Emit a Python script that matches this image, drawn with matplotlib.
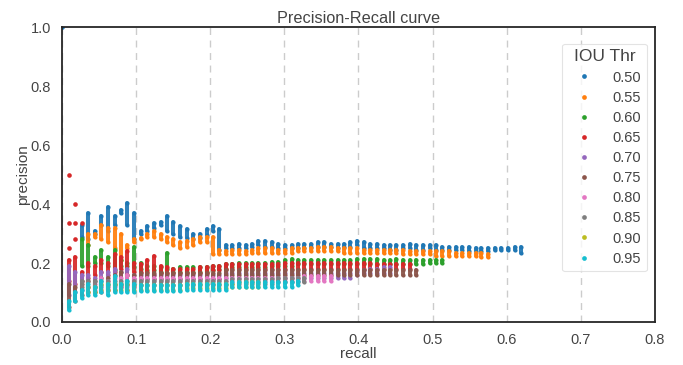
import matplotlib
matplotlib.use("Agg")
import matplotlib.pyplot as plt
from matplotlib.lines import Line2D

# recall positions of the columns
recall_grid = [0.009, 0.018, 0.027, 0.035, 0.044, 0.053, 0.062, 0.071, 0.080, 0.088,
               0.097, 0.106, 0.115, 0.124, 0.133, 0.142, 0.150, 0.159, 0.168, 0.177,
               0.186, 0.195, 0.204, 0.212, 0.221, 0.230, 0.239, 0.248, 0.257, 0.265,
               0.274, 0.283, 0.292, 0.301, 0.310, 0.319, 0.327, 0.336, 0.345, 0.354,
               0.363, 0.372, 0.381, 0.389, 0.398, 0.407, 0.416, 0.425, 0.434, 0.442,
               0.451, 0.460, 0.469, 0.478, 0.487, 0.496, 0.504, 0.513, 0.522, 0.531,
               0.540, 0.549, 0.558, 0.566, 0.575, 0.584, 0.593, 0.602, 0.611, 0.619]

iou_thr = ["0.50", "0.55", "0.60", "0.65", "0.70", "0.75", "0.80", "0.85", "0.90", "0.95"]

# IoU 0.50  (columns 3..70) + start point
p50_top = [0.33, 0.37, 0.31, 0.36, 0.39, 0.36, 0.38, 0.405, 0.37, 0.31, 0.325, 0.335, 0.34, 0.36,
           0.34, 0.325, 0.315, 0.30, 0.30, 0.315, 0.325, 0.315, 0.26, 0.26, 0.265, 0.26, 0.265,
           0.275, 0.275, 0.27, 0.265, 0.26, 0.26, 0.265, 0.265, 0.265, 0.27, 0.27, 0.265, 0.265,
           0.265, 0.27, 0.275, 0.27, 0.265, 0.265, 0.26, 0.26, 0.26, 0.26, 0.265, 0.26, 0.26,
           0.26, 0.26, 0.255, 0.255, 0.255, 0.255, 0.255, 0.25, 0.25, 0.25, 0.25, 0.25, 0.25,
           0.255, 0.255]
p50_bot = [0.29, 0.28, 0.30, 0.33, 0.31, 0.33, 0.37, 0.33, 0.28, 0.30, 0.31, 0.32, 0.33, 0.31,
           0.30, 0.29, 0.285, 0.28, 0.285, 0.295, 0.31, 0.245, 0.25, 0.25, 0.25, 0.25, 0.255,
           0.26, 0.255, 0.255, 0.25, 0.25, 0.25, 0.25, 0.25, 0.255, 0.255, 0.255, 0.255, 0.25,
           0.255, 0.255, 0.26, 0.25, 0.25, 0.25, 0.25, 0.245, 0.245, 0.25, 0.25, 0.245, 0.245,
           0.25, 0.245, 0.245, 0.245, 0.245, 0.245, 0.24, 0.24, 0.24, 0.24, 0.245, 0.245, 0.245,
           0.245, 0.235]
p50_extra_r = [0.0]
p50_extra_p = [1.0]

# IoU 0.55  (columns 4..65)
p55_top = [0.30, 0.30, 0.33, 0.32, 0.32, 0.30, 0.26, 0.28, 0.285, 0.30, 0.31, 0.30, 0.29, 0.28,
           0.27, 0.275, 0.28, 0.29, 0.29, 0.29, 0.245, 0.24, 0.245, 0.245, 0.24, 0.245, 0.25,
           0.25, 0.25, 0.245, 0.245, 0.25, 0.25, 0.25, 0.25, 0.255, 0.255, 0.255, 0.25, 0.25,
           0.25, 0.25, 0.245, 0.245, 0.245, 0.245, 0.245, 0.245, 0.245, 0.24, 0.24, 0.24, 0.24,
           0.24, 0.24, 0.24, 0.235, 0.235, 0.235, 0.235, 0.235, 0.23]
p55_bot = [0.26, 0.29, 0.28, 0.27, 0.25, 0.21, 0.25, 0.27, 0.28, 0.29, 0.29, 0.28, 0.27, 0.26,
           0.25, 0.255, 0.26, 0.27, 0.27, 0.23, 0.23, 0.23, 0.23, 0.23, 0.23, 0.235, 0.235,
           0.235, 0.235, 0.235, 0.235, 0.235, 0.24, 0.24, 0.24, 0.24, 0.24, 0.24, 0.24, 0.235,
           0.235, 0.235, 0.235, 0.235, 0.235, 0.235, 0.235, 0.235, 0.23, 0.23, 0.23, 0.23, 0.23,
           0.225, 0.225, 0.225, 0.225, 0.225, 0.225, 0.225, 0.22, 0.22]

# IoU 0.60  (columns 3..58)
p60_top = [0.28, 0.26, 0.22, 0.245, 0.22, 0.245, 0.21, 0.20, 0.255, 0.20, 0.19, 0.19, 0.185,
           0.235, 0.18, 0.185, 0.185, 0.185, 0.185, 0.185, 0.19, 0.19, 0.195, 0.195, 0.20, 0.20,
           0.20, 0.20, 0.20, 0.205, 0.205, 0.21, 0.215, 0.21, 0.21, 0.21, 0.21, 0.21, 0.21, 0.21,
           0.21, 0.21, 0.215, 0.215, 0.215, 0.215, 0.21, 0.21, 0.215, 0.21, 0.21, 0.21, 0.21,
           0.21, 0.21, 0.21]
p60_bot = [0.19, 0.19, 0.20, 0.20, 0.19, 0.175, 0.19, 0.19, 0.185, 0.18, 0.175, 0.175, 0.17,
           0.18, 0.17, 0.17, 0.17, 0.17, 0.17, 0.17, 0.175, 0.18, 0.18, 0.185, 0.185, 0.185,
           0.185, 0.185, 0.185, 0.19, 0.19, 0.19, 0.19, 0.195, 0.195, 0.195, 0.195, 0.195,
           0.195, 0.195, 0.195, 0.195, 0.195, 0.195, 0.195, 0.195, 0.195, 0.195, 0.195, 0.195,
           0.195, 0.195, 0.195, 0.20, 0.20, 0.20]

# IoU 0.65  (columns 1..53) + isolated early points
p65_top = [0.21, 0.22, 0.17, 0.20, 0.19, 0.21, 0.20, 0.23, 0.22, 0.24, 0.20, 0.195, 0.21,
           0.225, 0.19, 0.185, 0.18, 0.18, 0.18, 0.18, 0.185, 0.185, 0.19, 0.19, 0.195, 0.195,
           0.195, 0.195, 0.195, 0.195, 0.195, 0.195, 0.195, 0.20, 0.20, 0.20, 0.20, 0.20, 0.20,
           0.20, 0.20, 0.20, 0.20, 0.20, 0.20, 0.20, 0.20, 0.195, 0.195, 0.195, 0.195, 0.195,
           0.195]
p65_bot = [0.14, 0.13, 0.14, 0.15, 0.16, 0.17, 0.16, 0.17, 0.18, 0.16, 0.17, 0.17, 0.17, 0.16,
           0.165, 0.165, 0.165, 0.165, 0.165, 0.165, 0.165, 0.165, 0.175, 0.175, 0.18, 0.18,
           0.18, 0.18, 0.18, 0.18, 0.18, 0.18, 0.18, 0.18, 0.18, 0.18, 0.18, 0.18, 0.18, 0.18,
           0.18, 0.18, 0.18, 0.18, 0.18, 0.18, 0.18, 0.18, 0.18, 0.18, 0.18, 0.18, 0.18]
p65_extra_r = [0.009, 0.009, 0.009, 0.018, 0.018, 0.018, 0.027]
p65_extra_p = [0.50, 0.335, 0.25, 0.40, 0.335, 0.28, 0.335]

# IoU 0.70  (columns 1..50)
p70_top = [0.19, 0.17, 0.16, 0.16, 0.15, 0.17, 0.17, 0.18, 0.17, 0.18, 0.16, 0.16, 0.16, 0.16,
           0.16, 0.16, 0.16, 0.16, 0.16, 0.16, 0.16, 0.16, 0.16, 0.16, 0.165, 0.165, 0.165,
           0.165, 0.165, 0.165, 0.165, 0.165, 0.165, 0.165, 0.165, 0.165, 0.165, 0.165, 0.165,
           0.165, 0.165, 0.165, 0.165, 0.165, 0.17, 0.175, 0.18, 0.18, 0.185, 0.185]
p70_bot = [0.09, 0.10, 0.11, 0.12, 0.12, 0.12, 0.12, 0.13, 0.13, 0.13, 0.145, 0.145, 0.145,
           0.145, 0.145, 0.145, 0.145, 0.145, 0.145, 0.145, 0.145, 0.145, 0.145, 0.145, 0.15,
           0.15, 0.15, 0.15, 0.15, 0.15, 0.15, 0.15, 0.15, 0.15, 0.15, 0.15, 0.15, 0.15, 0.15,
           0.15, 0.15, 0.15, 0.15, 0.15, 0.16, 0.165, 0.165, 0.165, 0.165, 0.165]

# IoU 0.75  (columns 1..54)
p75_top = [0.13, 0.12, 0.13, 0.14, 0.14, 0.15, 0.15, 0.16, 0.17, 0.16, 0.16, 0.165, 0.165,
           0.165, 0.165, 0.165, 0.165, 0.165, 0.165, 0.165, 0.165, 0.165, 0.165, 0.165, 0.175,
           0.175, 0.175, 0.175, 0.175, 0.175, 0.175, 0.175, 0.175, 0.175, 0.175, 0.175, 0.175,
           0.175, 0.175, 0.175, 0.175, 0.175, 0.175, 0.175, 0.175, 0.175, 0.175, 0.175, 0.175,
           0.175, 0.175, 0.175, 0.175, 0.175]
p75_bot = [0.05, 0.07, 0.09, 0.10, 0.10, 0.10, 0.11, 0.11, 0.12, 0.11, 0.12, 0.145, 0.145,
           0.145, 0.145, 0.145, 0.145, 0.145, 0.145, 0.145, 0.145, 0.145, 0.145, 0.145, 0.16,
           0.16, 0.16, 0.16, 0.16, 0.16, 0.16, 0.16, 0.16, 0.16, 0.16, 0.16, 0.16, 0.16, 0.16,
           0.16, 0.16, 0.16, 0.16, 0.16, 0.16, 0.16, 0.16, 0.16, 0.16, 0.16, 0.16, 0.16, 0.16,
           0.16]

# IoU 0.80  (columns 5..41)
p80_top = [0.13, 0.15, 0.14, 0.15, 0.15, 0.16, 0.15, 0.15, 0.15, 0.15, 0.15, 0.15, 0.15, 0.15,
           0.15, 0.15, 0.15, 0.15, 0.15, 0.15, 0.15, 0.15, 0.15, 0.15, 0.15, 0.15, 0.15, 0.15,
           0.15, 0.15, 0.15, 0.15, 0.155, 0.155, 0.155, 0.155, 0.155]
p80_bot = [0.11, 0.11, 0.11, 0.12, 0.12, 0.12, 0.12, 0.14, 0.14, 0.14, 0.14, 0.14, 0.14, 0.14,
           0.14, 0.14, 0.14, 0.14, 0.14, 0.14, 0.14, 0.14, 0.14, 0.14, 0.14, 0.14, 0.14, 0.14,
           0.14, 0.14, 0.14, 0.14, 0.14, 0.14, 0.14, 0.14, 0.14]

# IoU 0.85  (columns 3..37)
p85_top = [0.14, 0.14, 0.14, 0.14, 0.14, 0.14, 0.14, 0.14, 0.14, 0.14, 0.14, 0.14,
           0.14, 0.14, 0.14, 0.14, 0.14, 0.14, 0.14, 0.14, 0.14, 0.14, 0.14, 0.145,
           0.145, 0.145, 0.145, 0.145, 0.145, 0.145, 0.15, 0.15, 0.15, 0.15, 0.15]
p85_bot = [0.12, 0.12, 0.12, 0.125, 0.125, 0.125, 0.125, 0.125, 0.125, 0.125, 0.125, 0.125,
           0.125, 0.125, 0.125, 0.125, 0.125, 0.125, 0.125, 0.125, 0.125, 0.125, 0.125, 0.13,
           0.13, 0.13, 0.13, 0.13, 0.13, 0.13, 0.135, 0.135, 0.135, 0.135, 0.135]

# IoU 0.90  (columns 4..30)
p90_top = [0.12, 0.12, 0.13, 0.13, 0.13, 0.13, 0.13, 0.125, 0.125, 0.125, 0.125, 0.125, 0.125,
           0.125, 0.125, 0.13, 0.13, 0.13, 0.13, 0.13, 0.13, 0.13, 0.13, 0.135, 0.135, 0.135,
           0.135]
p90_bot = [0.10, 0.10, 0.11, 0.11, 0.11, 0.11, 0.11, 0.11, 0.11, 0.11, 0.11, 0.11, 0.11, 0.11,
           0.11, 0.115, 0.115, 0.115, 0.115, 0.115, 0.115, 0.115, 0.12, 0.12, 0.12, 0.12, 0.12]

# IoU 0.95  (columns 1..36)
p95_top = [0.07, 0.10, 0.11, 0.13, 0.12, 0.14, 0.13, 0.155, 0.13, 0.14, 0.13, 0.125, 0.125,
           0.125, 0.125, 0.125, 0.125, 0.125, 0.13, 0.13, 0.13, 0.13, 0.13, 0.13, 0.13, 0.135,
           0.135, 0.135, 0.135, 0.135, 0.135, 0.135, 0.135, 0.135, 0.135, 0.14]
p95_bot = [0.04, 0.07, 0.08, 0.09, 0.09, 0.10, 0.09, 0.10, 0.10, 0.10, 0.10, 0.105, 0.105,
           0.105, 0.105, 0.105, 0.105, 0.105, 0.11, 0.11, 0.11, 0.11, 0.11, 0.11, 0.11, 0.12,
           0.12, 0.12, 0.12, 0.12, 0.12, 0.12, 0.12, 0.12, 0.12, 0.125]

first_col = [3, 4, 3, 1, 1, 1, 5, 3, 4, 1]
tops = [p50_top, p55_top, p60_top, p65_top, p70_top, p75_top, p80_top, p85_top, p90_top, p95_top]
bots = [p50_bot, p55_bot, p60_bot, p65_bot, p70_bot, p75_bot, p80_bot, p85_bot, p90_bot, p95_bot]
extras = {"0.50": (p50_extra_r, p50_extra_p), "0.65": (p65_extra_r, p65_extra_p)}

colors = ["#1f77b4", "#ff7f0e", "#2ca02c", "#d62728", "#9467bd",
          "#8c564b", "#e377c2", "#7f7f7f", "#bcbd22", "#17becf"]

plt.rcParams["font.family"] = ["Liberation Sans", "DejaVu Sans"]

fig = plt.figure(figsize=(6.83, 3.65), dpi=100)
ax = fig.add_axes([0.0908, 0.118, 0.868, 0.807])

dot_s = 9
lw = 2.9
for i, lab in enumerate(iou_thr):
    start = first_col[i] - 1
    r = recall_grid[start:start + len(tops[i])]
    z = 2 + i * 0.1
    lc = ax.vlines(r, bots[i], tops[i], colors=colors[i], linewidth=lw, alpha=0.92, zorder=z)
    lc.set_capstyle("round")
    ax.scatter(r, tops[i], s=dot_s, color=colors[i], linewidths=0, zorder=z)
    ax.scatter(r, bots[i], s=dot_s, color=colors[i], linewidths=0, zorder=z)
    if lab in extras:
        er, ep = extras[lab]
        ax.scatter(er, ep, s=dot_s + 2, color=colors[i], linewidths=0, zorder=z)

ax.set_xlim(0, 0.8)
ax.set_ylim(0, 1.0)
ax.set_xticks([0.0, 0.1, 0.2, 0.3, 0.4, 0.5, 0.6, 0.7, 0.8])
ax.set_yticks([0.0, 0.2, 0.4, 0.6, 0.8, 1.0])
ax.tick_params(axis="y", length=0, labelsize=10.5, colors="#444444", pad=8)
ax.tick_params(axis="x", length=0, labelsize=10.5, colors="#444444", pad=8)
ax.grid(axis="x", linestyle=(0, (5, 4)), color="#cccccc", linewidth=1.0)
ax.set_axisbelow(True)
for sp in ax.spines.values():
    sp.set_color("#262626")
    sp.set_linewidth(1.3)

ax.set_title("Precision-Recall curve", fontsize=11.7, color="#444444", pad=3)
ax.set_xlabel("recall", fontsize=11, color="#444444", labelpad=0)
ax.set_ylabel("precision", fontsize=11, color="#444444", labelpad=0)

handles = [Line2D([], [], linestyle="none", marker="o", markersize=3.4,
                  markerfacecolor=c, markeredgewidth=0) for c in colors]
leg = ax.legend(handles, iou_thr, title="IOU Thr", loc="upper right",
                fontsize=10.5, title_fontsize=12.5, frameon=True, fancybox=True,
                borderaxespad=0.0, labelspacing=0.42, handletextpad=0.9,
                markerfirst=True, handlelength=2.2, bbox_to_anchor=(0.987, 0.945))
leg.get_frame().set_edgecolor("#dddddd")
leg.get_frame().set_linewidth(0.8)
for t in leg.get_texts():
    t.set_color("#444444")
leg.get_title().set_color("#444444")

fig.savefig("out.png", dpi=100)
